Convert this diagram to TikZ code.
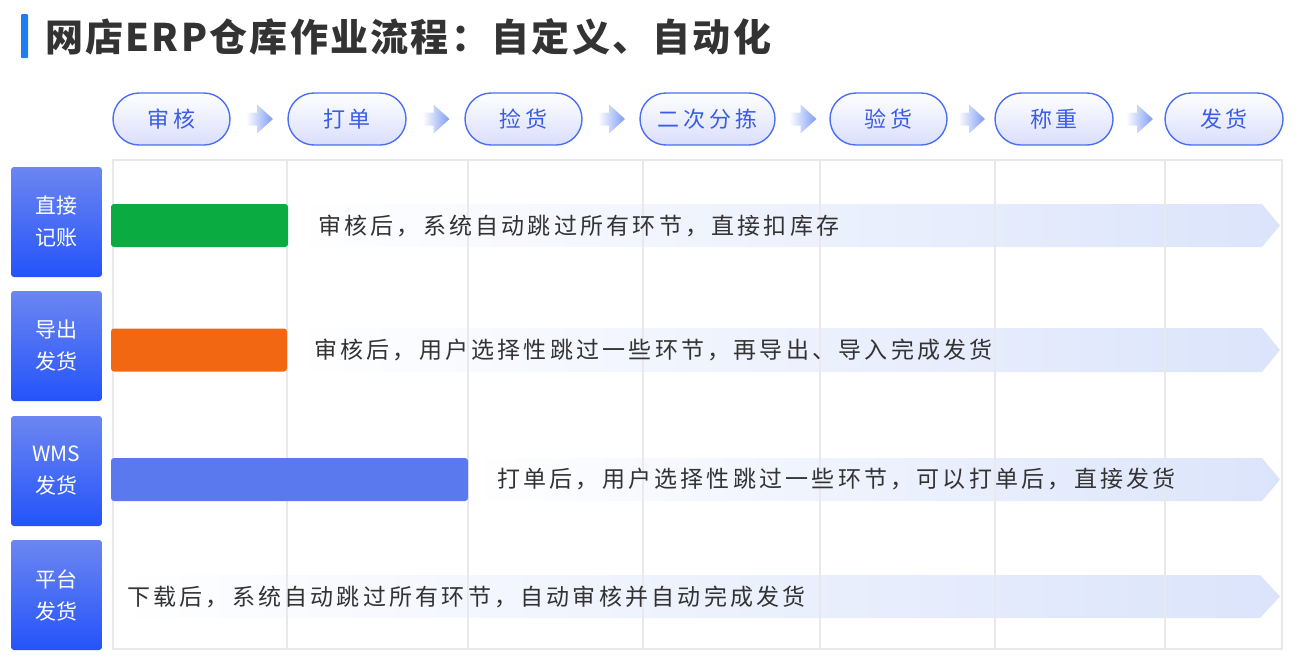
\documentclass[tikz,border=0pt]{standalone}
\usepackage{fontspec}
\setmainfont{Noto Sans CJK SC}
\newfontfamily\descfont[LetterSpace=14]{Noto Sans CJK SC}
\newfontfamily\stagefont[LetterSpace=17]{Noto Sans CJK SC}
\newfontfamily\titlefont[LetterSpace=6]{Noto Sans CJK SC}
\usetikzlibrary{calc}

\definecolor{title_blue}{HTML}{1F7CF2}
\definecolor{text_gray}{HTML}{333333}
\definecolor{stage_blue}{HTML}{3A5CE6}
\definecolor{pill_line}{HTML}{4C6EF2}
\definecolor{pill_fill}{HTML}{D9DEFB}
\definecolor{label_top}{HTML}{6C86F1}
\definecolor{label_bottom}{HTML}{2453FA}
\definecolor{bar_green}{HTML}{0AAB40}
\definecolor{bar_orange}{HTML}{F26812}
\definecolor{bar_blue}{HTML}{5A79EE}
\definecolor{band_blue}{HTML}{DBE4FB}
\definecolor{grid_gray}{HTML}{E8E8ED}
\definecolor{arrow_blue}{HTML}{7F9BF3}

\begin{document}
\begin{tikzpicture}[x=1pt,y=-1pt,
    stage_node/.style={rounded corners=26pt,draw=pill_line,line width=1.4pt,
      top color=white,bottom color=pill_fill,minimum height=52pt,
      text=stage_blue,font=\stagefont\fontsize{22}{26}\selectfont},
    row_label/.style={rounded corners=3pt,top color=label_top,bottom color=label_bottom,
      minimum width=91pt,minimum height=110pt,text=white,align=center,
      font=\fontsize{21}{32}\selectfont},
    bar_node/.style={rounded corners=3pt,minimum height=43pt,inner sep=0pt},
    desc_text/.style={anchor=west,inner sep=0pt,text=text_gray,
      font=\descfont\fontsize{23}{26}\selectfont},
    grid_line/.style={draw=grid_gray,line width=1.2pt}]

    \useasboundingbox (0,0) rectangle (1304,665);

    % title
    \fill[title_blue,rounded corners=1pt] (21,14) rectangle (28,58);
    \node[anchor=west,inner sep=0pt,text=text_gray,font=\titlefont\bfseries\fontsize{38}{42}\selectfont] (title) at (45,37) {网店ERP仓库作业流程：自定义、自动化};

    % stages
    \node[stage_node,minimum width=117pt] (s1) at (171.5,119) {审核};
    \node[stage_node,minimum width=118pt] (s2) at (347,119) {打单};
    \node[stage_node,minimum width=117pt] (s3) at (523.5,119) {捡货};
    \node[stage_node,minimum width=135pt] (s4) at (707.5,119) {二次分拣};
    \node[stage_node,minimum width=117pt] (s5) at (888.5,119) {验货};
    \node[stage_node,minimum width=118pt] (s6) at (1054,119) {称重};
    \node[stage_node,minimum width=118pt] (s7) at (1224,119) {发货};

    \foreach \a/\b in {s1/s2,s2/s3,s3/s4,s4/s5,s5/s6,s6/s7}{
      \coordinate (m) at ($(\a.east)!0.5!(\b.west)$);
      \shade[left color=white,right color=arrow_blue]
        ($(m)+(-13,-6.5)$) -- ($(m)+(-2,-6.5)$) -- ($(m)+(-2,-14.5)$) -- ($(m)+(14,0)$)
        -- ($(m)+(-2,14.5)$) -- ($(m)+(-2,6.5)$) -- ($(m)+(-13,6.5)$) -- cycle;
    }

    % bands
    \shade[left color=white,right color=band_blue] (290,204) -- (1262,204) -- (1280,225.5) -- (1262,247) -- (290,247) -- cycle;
    \shade[left color=white,right color=band_blue] (290,328) -- (1262,328) -- (1280,350) -- (1262,372) -- (290,372) -- cycle;
    \shade[left color=white,right color=band_blue] (470,458) -- (1262,458) -- (1280,479.5) -- (1262,501) -- (470,501) -- cycle;
    \shade[left color=white,right color=band_blue] (113,575) -- (1260,575) -- (1280,596.5) -- (1260,618) -- (113,618) -- cycle;

    % grid
    \draw[grid_line] (113,160) rectangle (1282,649);
    \foreach \x in {287,468,643,820,995,1165}
      \draw[grid_line] (\x,160) -- (\x,649);

    % rows
    \node[row_label] (r1) at (56.5,222) {直接\\记账};
    \node[row_label] (r2) at (56.5,346) {导出\\发货};
    \node[row_label] (r3) at (56.5,471) {WMS\\发货};
    \node[row_label] (r4) at (56.5,595) {平台\\发货};

    \node[bar_node,fill=bar_green,minimum width=177pt] (b1) at (199.5,225.5) {};
    \node[bar_node,fill=bar_orange,minimum width=176pt] (b2) at (199,350) {};
    \node[bar_node,fill=bar_blue,minimum width=357pt] (b3) at (289.5,479.5) {};

    \node[desc_text] (t1) at (318,225.5) {审核后，系统自动跳过所有环节，直接扣库存};
    \node[desc_text] (t2) at (314,350) {审核后，用户选择性跳过一些环节，再导出、导入完成发货};
    \node[desc_text] (t3) at (497,479.5) {打单后，用户选择性跳过一些环节，可以打单后，直接发货};
    \node[desc_text] (t4) at (127,596.5) {下载后，系统自动跳过所有环节，自动审核并自动完成发货};
\end{tikzpicture}
\end{document}
